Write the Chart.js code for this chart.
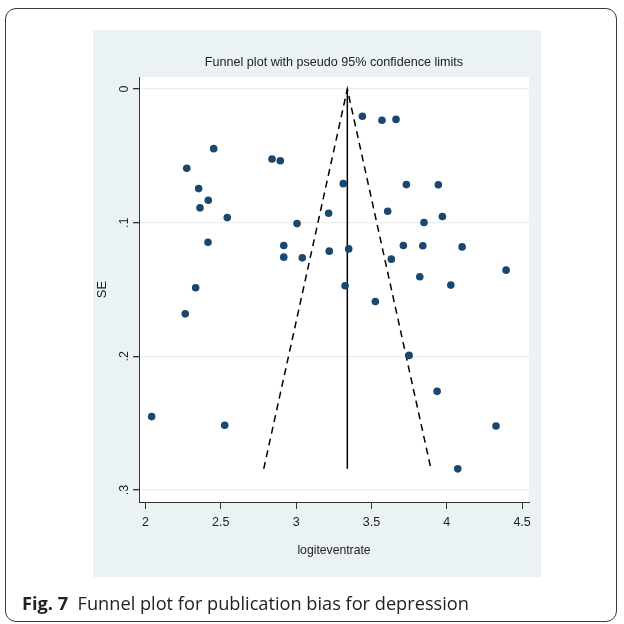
<!DOCTYPE html>
<html>
<head>
  <meta charset="utf-8">
  <title>Funnel plot</title>
  <script src="https://cdn.jsdelivr.net/npm/chart.js"></script>
  <style>
    body { margin: 0; background: #fff; }
    #frame { position: relative; width: 624px; height: 624px; overflow: hidden; }
    #border {
      position: absolute; left: 5px; top: 8px; width: 612px; height: 614px;
      border: 1px solid #3a3a3a; border-radius: 11px; box-sizing: border-box;
    }
    #panel { position: absolute; left: 93px; top: 30px; width: 448px; height: 547px; background: rgb(234, 242, 243); }
    #funnel { position: absolute; left: 0; top: 0; }
    #caption {
      position: absolute; left: 22px; top: 591px; white-space: pre;
      font-family: "Open Sans", sans-serif; font-size: 18.2px; color: #222;
    }
    #caption b { font-weight: 700; }
  </style>
</head>
<body>
  <div id="frame">
    <div id="border"></div>
    <div id="panel"></div>
    <canvas id="funnel" width="624" height="624"></canvas>
    <div id="caption"><b>Fig. 7</b>  Funnel plot for publication bias for depression</div>
  </div>
  <script>
    // studies: logit event rate and its standard error
    const logitEventRate = [
      2.274, 2.453, 2.353, 2.417, 2.362, 2.543, 2.415, 2.333, 2.840, 2.895,
      3.006, 2.918, 2.918, 3.041, 3.216, 3.220, 3.440, 3.570, 3.663, 3.313,
      3.732, 3.944, 3.608, 3.971, 3.849, 3.349, 3.712, 3.841, 4.102, 3.632,
      4.394, 3.821, 4.027, 3.325, 3.526, 3.750, 3.936, 4.327, 4.073, 2.264,
      2.041, 2.526
    ];
    const standardError = [
      0.0593, 0.0446, 0.0745, 0.0832, 0.0889, 0.0962, 0.1146, 0.1487, 0.0523, 0.0536,
      0.1007, 0.1171, 0.1258, 0.1263, 0.0929, 0.1213, 0.0204, 0.0234, 0.0227, 0.0708,
      0.0715, 0.0717, 0.0914, 0.0954, 0.0999, 0.1196, 0.1171, 0.1173, 0.1181, 0.1273,
      0.1355, 0.1405, 0.1467, 0.1472, 0.1590, 0.1993, 0.2262, 0.2521, 0.2842, 0.1682,
      0.2451, 0.2516
    ];

    // pseudo 95% limits and pooled estimate
    const funnelX = [2.785, 3.34, 3.895];
    const funnelSE = [0.2842, 0, 0.2842];
    const pooledX = [3.34, 3.34];
    const pooledSE = [0, 0.2842];

    const xTicks = [2, 2.5, 3, 3.5, 4, 4.5];
    const xTickLabels = ['2', '2.5', '3', '3.5', '4', '4.5'];
    const yTicks = [0, 0.1, 0.2, 0.3];
    const yTickLabels = ['0', '.1', '.2', '.3'];

    const FONT = '"Liberation Sans", Arial, sans-serif';
    const ink = '#222';

    const toPoints = (xs, ys) => xs.map((x, i) => ({ x: x, y: ys[i] }));

    // white plot region inside the grey graph region
    const plotRegion = {
      id: 'plotRegion',
      beforeDraw(chart) {
        const { ctx, chartArea: a } = chart;
        ctx.save();
        ctx.fillStyle = '#fff';
        ctx.fillRect(a.left, a.top, a.right - a.left, a.bottom - a.top);
        ctx.restore();
      }
    };

    new Chart(document.getElementById('funnel'), {
      type: 'scatter',
      data: {
        datasets: [{
          data: toPoints(logitEventRate, standardError),
          backgroundColor: '#1a476f',
          borderWidth: 0,
          pointRadius: 3.8
        }, {
          type: 'line',
          data: toPoints(funnelX, funnelSE),
          borderColor: '#000',
          borderWidth: 1.5,
          borderDash: [7, 5],
          pointRadius: 0,
          fill: false
        }, {
          type: 'line',
          data: toPoints(pooledX, pooledSE),
          borderColor: '#000',
          borderWidth: 1.5,
          pointRadius: 0,
          fill: false
        }]
      },
      options: {
        responsive: false,
        animation: false,
        layout: { padding: { left: 95, right: 95, top: 45, bottom: 66 } },
        plugins: {
          legend: { display: false },
          tooltip: { enabled: false },
          title: {
            display: true,
            fullSize: false,
            text: 'Funnel plot with pseudo 95% confidence limits',
            color: ink,
            font: { family: FONT, size: 12.6, weight: 'normal' },
            padding: { top: 10, bottom: 6.9 }
          }
        },
        scales: {
          x: {
            type: 'linear',
            min: 1.957,
            max: 4.546,
            afterBuildTicks: s => { s.ticks = xTicks.map(v => ({ value: v })); },
            afterFit: s => { s.height = 56; },
            grid: { drawOnChartArea: false, drawTicks: true, tickLength: 7, tickColor: '#333' },
            border: { color: '#333', width: 1 },
            ticks: {
              color: ink, padding: 6, maxRotation: 0, autoSkip: false,
              font: { family: FONT, size: 12.5 },
              callback: v => xTickLabels[xTicks.indexOf(v)]
            },
            title: { display: true, text: 'logiteventrate', color: ink, font: { family: FONT, size: 12.2 }, padding: 0 }
          },
          y: {
            type: 'linear',
            reverse: true,
            min: -0.009,
            max: 0.309,
            afterBuildTicks: s => { s.ticks = yTicks.map(v => ({ value: v })); },
            afterFit: s => { s.width = 44; },
            grid: { color: 'rgb(232, 240, 242)', lineWidth: 1.3, tickColor: '#333', tickLength: 6 },
            border: { color: '#333', width: 1 },
            ticks: {
              color: ink, padding: 3, minRotation: 90, maxRotation: 90, crossAlign: 'center', autoSkip: false,
              font: { family: FONT, size: 12.5 },
              callback: v => yTickLabels[yTicks.indexOf(v)]
            },
            title: { display: true, text: 'SE', color: ink, font: { family: FONT, size: 13 }, padding: 0 }
          }
        }
      },
      plugins: [plotRegion]
    });
  </script>
</body>
</html>
